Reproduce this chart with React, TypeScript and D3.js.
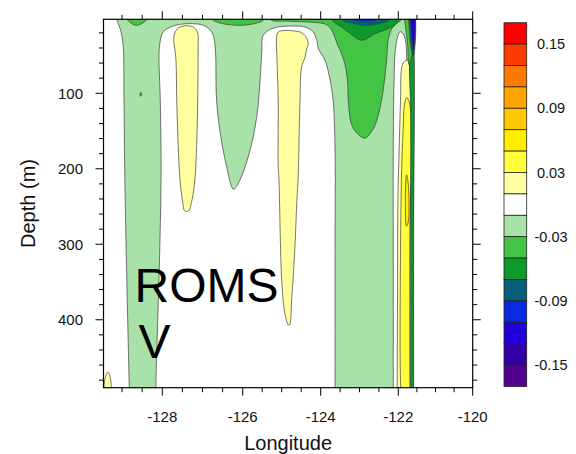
import { useEffect, useRef } from 'react';
import * as d3 from 'd3';

type Pt = [number, number];

// contour level boundaries of the label bar, top to bottom
const levels = [0.15, 0.13, 0.11, 0.09, 0.07, 0.05, 0.03, 0.01, -0.01, -0.03, -0.05, -0.07, -0.09, -0.11, -0.13, -0.15];
const bandColors = [
  '#ff0000', '#ff3c00', '#ff7800', '#ffa500', '#ffc800', '#ffee00', '#ffff3c', '#ffffa0', '#ffffff',
  '#a8e2a8', '#44c444', '#0c9a2c', '#0a5f78', '#0a2ae0', '#2000d8', '#3200a8', '#520090',
];

const lonTicks = [-128, -126, -124, -122, -120];
const depthTicks = [100, 200, 300, 400];

// filled contour regions, [longitude, depth in m]
const lightGreenShelf: Pt[] = [
  [-128.8, 560], [-128.81, 510], [-128.82, 490], [-128.93, 215], [-128.95, 109], [-128.98, 32], [-129.05, 14], [-129.13, 2],
  [-129.17, -15], [-129.19, -40], [-128, -40], [-126, -40], [-124, -40], [-122.5, -40], [-121.59, -40], [-121.59, -15],
  [-121.59, 60], [-121.59, 150], [-121.59, 250], [-121.59, 350], [-121.59, 450], [-121.59, 510], [-121.59, 560],
  [-122.5, 560], [-124, 560], [-126, 560], [-128, 560],
];
const whiteInterior: Pt[] = [
  [-128.16, 560], [-128.16, 510], [-128.16, 490], [-128.06, 300], [-128.03, 200], [-128.05, 110], [-128.08, 45], [-128.04, 28],
  [-127.98, 18.8], [-127.73, 10.9], [-127.35, 7.8], [-126.98, 9.9], [-126.77, 18.8], [-126.69, 36], [-126.65, 109], [-126.56, 152],
  [-126.4, 197], [-126.23, 227], [-126.07, 215], [-125.81, 175], [-125.64, 131], [-125.56, 87], [-125.51, 43], [-125.48, 24],
  [-125.34, 16.6], [-125.09, 12.2], [-124.74, 10.9], [-124.4, 12.2], [-124.19, 18.8], [-124.1, 30], [-124.06, 41], [-123.89, 56],
  [-123.76, 82], [-123.68, 109], [-123.63, 175], [-123.63, 307], [-123.63, 490], [-123.63, 510], [-123.63, 560], [-125, 560],
  [-127, 560],
];
const whiteCoast: Pt[] = [
  [-122.13, 560], [-122.13, 510], [-122.13, 330], [-122.13, 168], [-122.11, 85], [-122.06, 36], [-121.95, 18.4], [-121.85, 22.8],
  [-121.79, 36], [-121.77, 62], [-121.72, 80], [-121.72, 300], [-121.72, 510], [-121.72, 560],
];
const greenTopLeft: Pt[] = [[-128.95, -15], [-128.87, 2.3], [-128.76, 7.6], [-128.65, 10], [-128.53, 8.2], [-128.39, 2.3], [-128.33, -15]];
const greenTopMid: Pt[] = [[-126.8, -15], [-126.75, 2], [-126.56, 7], [-126.07, 10], [-125.64, 7], [-125.45, 2], [-125.4, -15]];
const greenEast: Pt[] = [
  [-125.34, -15], [-125.3, 2], [-124.8, 4.5], [-124.2, 6], [-123.85, 9], [-123.72, 16], [-123.57, 35], [-123.41, 55], [-123.31, 82],
  [-123.29, 109], [-123.2, 142], [-123.04, 154], [-122.86, 159.5], [-122.68, 150], [-122.57, 138], [-122.43, 109], [-122.3, 56],
  [-122.26, 29], [-122.16, 14], [-122.01, 6], [-121.9, 2], [-121.88, -15],
];
const greenDot: Pt[] = [[-128.555, 100], [-128.53, 99], [-128.515, 101.5], [-128.53, 104], [-128.55, 103]];
const darkGreenTop: Pt[] = [
  [-123.75, -15], [-123.72, 2], [-123.47, 12], [-123.29, 18.8], [-122.94, 29.8], [-122.6, 21.1], [-122.26, 14.4], [-122.09, 9.9],
  [-121.97, 2], [-121.93, -15],
];
const tealTop: Pt[] = [[-123.55, -15], [-123.46, 2], [-123.19, 7], [-122.86, 10], [-122.52, 8], [-122.21, 2], [-122.16, -15]];
const blueTop: Pt[] = [[-123.25, -15], [-123.2, 2], [-123.0, 4.5], [-122.75, 4.5], [-122.55, 2], [-122.5, -15]];
const yellowWest: Pt[] = [
  [-127.71, 24], [-127.63, 14.8], [-127.53, 11.5], [-127.36, 10.6], [-127.21, 12.9], [-127.12, 20], [-127.11, 36], [-127.12, 109],
  [-127.15, 175], [-127.19, 215], [-127.26, 241], [-127.35, 256], [-127.44, 256], [-127.5, 241], [-127.56, 215], [-127.6, 175],
  [-127.64, 109], [-127.66, 56],
];
const yellowMid: Pt[] = [
  [-125.13, 25], [-125.09, 18.8], [-124.92, 16.8], [-124.66, 17.5], [-124.48, 20], [-124.36, 27], [-124.32, 35], [-124.36, 41],
  [-124.4, 52], [-124.49, 65], [-124.53, 109], [-124.57, 197], [-124.58, 215], [-124.61, 241], [-124.66, 303], [-124.74, 370],
  [-124.8, 407], [-124.83, 407], [-124.92, 391], [-125.0, 347], [-125.07, 215], [-125.09, 197], [-125.09, 109], [-125.12, 56],
];
const yellowCorner: Pt[] = [
  [-129.47, 560], [-129.46, 510], [-129.43, 480], [-129.35, 469], [-129.29, 477], [-129.26, 495], [-129.25, 510], [-129.25, 560],
];
const yellowCoast: Pt[] = [
  [-121.91, 66.5], [-121.85, 58.5], [-121.75, 56], [-121.69, 69], [-121.69, 300], [-121.69, 510], [-121.69, 560], [-122.03, 560],
  [-122.03, 510], [-122.02, 373], [-122.01, 241], [-121.97, 162], [-121.94, 109],
];
const yellowCoastInner: Pt[] = [
  [-121.83, 114], [-121.77, 106], [-121.69, 115], [-121.69, 300], [-121.69, 510], [-121.69, 560], [-121.93, 560], [-121.93, 510],
  [-121.95, 453], [-121.94, 307], [-121.91, 201], [-121.87, 148],
];
const goldSliver: Pt[] = [[-121.78, 208], [-121.73, 221], [-121.73, 270], [-121.78, 276], [-121.81, 241]];
const greenCoast: Pt[] = [[-121.85, -15], [-121.81, 10], [-121.75, 35], [-121.71, 62], [-121.66, 64], [-121.6, 40], [-121.59, -15]];
const darkGreenCoast: Pt[] = [
  [-121.69, 60], [-121.67, 120], [-121.665, 300], [-121.665, 510], [-121.665, 560], [-121.59, 560], [-121.59, 510], [-121.59, 300],
  [-121.59, 40], [-121.63, 50],
];
const tealCoast: Pt[] = [[-121.72, -15], [-121.71, 10], [-121.67, 35], [-121.61, 50], [-121.59, 50], [-121.59, -15]];
const blueCoast: Pt[] = [[-121.68, -15], [-121.67, 5], [-121.63, 30], [-121.6, 42], [-121.59, 42], [-121.59, -15]];

const regions: { pts: Pt[]; band: number }[] = [
  { pts: lightGreenShelf, band: 9 },
  { pts: whiteInterior, band: 8 },
  { pts: whiteCoast, band: 8 },
  { pts: greenTopLeft, band: 10 },
  { pts: greenTopMid, band: 10 },
  { pts: greenEast, band: 10 },
  { pts: greenDot, band: 10 },
  { pts: darkGreenTop, band: 11 },
  { pts: tealTop, band: 12 },
  { pts: blueTop, band: 13 },
  { pts: yellowWest, band: 7 },
  { pts: yellowMid, band: 7 },
  { pts: yellowCorner, band: 7 },
  { pts: yellowCoast, band: 7 },
  { pts: yellowCoastInner, band: 6 },
  { pts: goldSliver, band: 5 },
  { pts: greenCoast, band: 10 },
  { pts: darkGreenCoast, band: 11 },
  { pts: tealCoast, band: 12 },
  { pts: blueCoast, band: 14 },
];

const FONT = '"Liberation Sans", Arial, Helvetica, sans-serif';

export default function App() {
  const svgRef = useRef<SVGSVGElement>(null);

  useEffect(() => {
    if (!svgRef.current) return;
    const svg = d3.select(svgRef.current);
    svg.selectAll('*').remove();

    const left = 103.5;
    const right = 472.7;
    const top = 19.3;
    const bottom = 387.7;

    // irregular longitude axis (grid spacing shrinks eastward)
    const x = d3.scaleLinear()
      .domain([-129.46, ...lonTicks])
      .range([left, 162.3, 242.7, 320.7, 398.3, right]);
    const y = d3.scaleLinear().domain([2, 490]).range([top, bottom]);

    svg.append('defs')
      .append('clipPath')
      .attr('id', 'plot-clip')
      .append('rect')
      .attr('x', left)
      .attr('y', top)
      .attr('width', right - left)
      .attr('height', bottom - top);

    const plot = svg.append('g').attr('clip-path', 'url(#plot-clip)');
    plot.append('rect')
      .attr('x', left)
      .attr('y', top)
      .attr('width', right - left)
      .attr('height', bottom - top)
      .attr('fill', '#fff');

    const line = d3.line<Pt>()
      .x((d) => x(d[0]))
      .y((d) => y(d[1]))
      .curve(d3.curveCatmullRomClosed.alpha(0.5));

    plot.selectAll('path.region')
      .data(regions)
      .join('path')
      .attr('class', 'region')
      .attr('d', (d) => line(d.pts))
      .attr('fill', (d) => bandColors[d.band])
      .attr('stroke', '#3c3c3c')
      .attr('stroke-width', 0.7);

    // frame
    svg.append('rect')
      .attr('x', left)
      .attr('y', top)
      .attr('width', right - left)
      .attr('height', bottom - top)
      .attr('fill', 'none')
      .attr('stroke', '#000')
      .attr('stroke-width', 1.2);

    const ticks = svg.append('g').attr('stroke', '#000').attr('stroke-width', 1);
    const majLen = 8;
    const minLen = 4.5;
    const lonMinor = d3.range(-129, -120, 0.5).filter((v) => !lonTicks.includes(v));
    const depthMinor = d3.range(20, 490, 20).filter((v) => v % 100 !== 0);

    const xTick = (v: number, len: number) => {
      ticks.append('line').attr('x1', x(v)).attr('x2', x(v)).attr('y1', bottom).attr('y2', bottom + len);
      ticks.append('line').attr('x1', x(v)).attr('x2', x(v)).attr('y1', top).attr('y2', top - len);
    };
    const yTick = (v: number, len: number) => {
      ticks.append('line').attr('x1', left).attr('x2', left - len).attr('y1', y(v)).attr('y2', y(v));
      ticks.append('line').attr('x1', right).attr('x2', right + len).attr('y1', y(v)).attr('y2', y(v));
    };
    lonTicks.forEach((v) => xTick(v, majLen));
    lonMinor.forEach((v) => xTick(v, minLen));
    depthTicks.forEach((v) => yTick(v, majLen));
    depthMinor.forEach((v) => yTick(v, minLen));

    const labels = svg.append('g').attr('font-family', FONT).attr('fill', '#111');
    labels.selectAll('text.xl')
      .data(lonTicks)
      .join('text')
      .attr('class', 'xl')
      .attr('x', (d) => x(d))
      .attr('y', 422.3)
      .attr('text-anchor', 'middle')
      .attr('font-size', 15)
      .text((d) => d);
    labels.selectAll('text.yl')
      .data(depthTicks)
      .join('text')
      .attr('class', 'yl')
      .attr('x', 83)
      .attr('y', (d) => y(d) + 5.4)
      .attr('text-anchor', 'end')
      .attr('font-size', 15)
      .text((d) => d);

    labels.append('text')
      .attr('x', (left + right) / 2)
      .attr('y', 450)
      .attr('text-anchor', 'middle')
      .attr('font-size', 20)
      .text('Longitude');
    labels.append('text')
      .attr('transform', `translate(35,${(top + bottom) / 2}) rotate(-90)`)
      .attr('text-anchor', 'middle')
      .attr('font-size', 20)
      .text('Depth (m)');

    // label bar
    const barTop = 22.7;
    const barBottom = 386.5;
    const bar = d3.scaleBand<number>()
      .domain(d3.range(bandColors.length))
      .range([barTop, barBottom]);
    const cb = svg.append('g');
    cb.selectAll('rect')
      .data(bandColors)
      .join('rect')
      .attr('x', 504)
      .attr('y', (_, i) => bar(i) as number)
      .attr('width', 22.7)
      .attr('height', bar.bandwidth())
      .attr('fill', (d) => d)
      .attr('stroke', '#222')
      .attr('stroke-width', 0.8);
    cb.selectAll('text')
      .data(levels.map((v, i) => ({ v, i })).filter((d) => d.i % 3 === 0))
      .join('text')
      .attr('x', 551)
      .attr('y', (d) => (bar(d.i) as number) + bar.bandwidth() + 5)
      .attr('text-anchor', 'middle')
      .attr('font-family', FONT)
      .attr('font-size', 14.5)
      .attr('fill', '#111')
      .text((d) => d.v.toFixed(2));

    // model / variable annotation
    const note = svg.append('g').attr('font-family', FONT).attr('font-size', 48).attr('fill', '#000');
    note.append('text').attr('x', 134.5).attr('y', 302).text('ROMS');
    note.append('text').attr('x', 138.5).attr('y', 358).text('V');
  }, []);

  return (
    <svg
      ref={svgRef}
      width={576}
      height={454}
      style={{ position: 'absolute', left: 0, top: 0, background: '#fff' }}
    />
  );
}
